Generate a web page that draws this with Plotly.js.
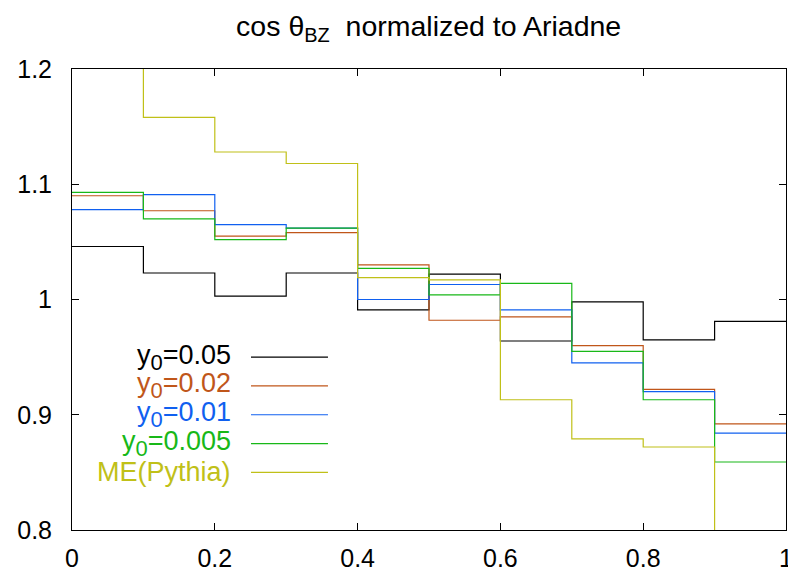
<!DOCTYPE html>
<html>
<head>
<meta charset="utf-8">
<script src="https://cdn.plot.ly/plotly-3.0.1.min.js"></script>
<style>html,body{margin:0;padding:0;background:#fff;}#chart{width:788px;height:571px;}</style>
</head>
<body>
<div id="chart"></div>
<script>
// bin edges of cos theta_BZ
var binEdges = [0, 0.1, 0.2, 0.3, 0.4, 0.5, 0.6, 0.7, 0.8, 0.9, 1.0];
// ratio to Ariadne per bin
var y0_005  = [1.046, 1.023, 1.003, 1.023, 0.991, 1.022, 0.964, 0.998, 0.965, 0.981];
var y0_002  = [1.090, 1.077, 1.055, 1.058, 1.030, 0.982, 0.985, 0.960, 0.922, 0.892];
var y0_001  = [1.078, 1.091, 1.065, 1.062, 1.000, 1.013, 0.991, 0.945, 0.920, 0.884];
var y0_0005 = [1.093, 1.070, 1.052, 1.062, 1.027, 1.004, 1.014, 0.955, 0.913, 0.859];
var mePythia = [1.25, 1.158, 1.128, 1.118, 1.019, 1.017, 0.913, 0.879, 0.872, 0.78];

var subStyle = function(t){ return '<sub><span style="font-size:22px">' + t + '</span></sub>'; };
var seriesNames = ["y" + subStyle("0") + "=0.05", "y" + subStyle("0") + "=0.02", "y" + subStyle("0") + "=0.01", "y" + subStyle("0") + "=0.005", "ME(Pythia)"];
var seriesData = [y0_005, y0_002, y0_001, y0_0005, mePythia];
var seriesColors = ["#000000", "#c0561a", "#1060f0", "#18b818", "#c0c018"];

var traces = seriesData.map(function(vals, i){
  return {
    x: binEdges,
    y: vals.concat([vals[vals.length-1]]),
    type: 'scatter', mode: 'lines',
    line: {shape: 'hv', color: seriesColors[i], width: 1.2},
    name: seriesNames[i], showlegend: false, hoverinfo: 'skip'
  };
});

var legendRows = [0.375, 0.3125, 0.25, 0.1875, 0.125];
var annotations = [];
var shapes = [];
seriesNames.forEach(function(n, i){
  annotations.push({
    xref: 'paper', yref: 'paper', x: 0.2255, y: legendRows[i],
    xanchor: 'right', yanchor: 'middle', text: n, showarrow: false,
    font: {family: 'Liberation Sans, Arial, sans-serif', size: 27, color: seriesColors[i]}
  });
  shapes.push({
    type: 'line', xref: 'paper', yref: 'paper',
    x0: 0.2507, x1: 0.3585, y0: legendRows[i], y1: legendRows[i],
    line: {color: seriesColors[i], width: 1.2}
  });
});

var axisFont = {family: 'Liberation Sans, Arial, sans-serif', size: 25, color: '#000'};
var layout = {
  width: 788, height: 571,
  margin: {l: 72, r: 2, t: 69, b: 41, pad: 0},
  paper_bgcolor: '#fff', plot_bgcolor: '#fff',
  title: {text: 'cos θ<sub>BZ</sub>  normalized to Ariadne', x: 0.544, xanchor: 'center', yref: 'container', y: 0.955, yanchor: 'middle',
    font: {family: 'Liberation Sans, Arial, sans-serif', size: 28.5, color: '#000'}},
  xaxis: {range: [0, 1], tickvals: [0, 0.2, 0.4, 0.6, 0.8, 1], ticktext: ['0', '0.2', '0.4', '0.6', '0.8', '1'],
    ticks: 'inside', ticklen: 7, tickcolor: '#000', showgrid: false, zeroline: false, ticklabeloverflow: 'allow',
    showline: true, linecolor: '#000', linewidth: 1, mirror: 'ticks', tickfont: axisFont, ticklabelstandoff: 6},
  yaxis: {range: [0.8, 1.2], tickvals: [0.8, 0.9, 1.0, 1.1, 1.2], ticktext: ['0.8', '0.9', '1', '1.1', '1.2'],
    ticks: 'inside', ticklen: 7, tickcolor: '#000', showgrid: false, zeroline: false,
    showline: true, linecolor: '#000', linewidth: 1, mirror: 'ticks', tickfont: axisFont, ticklabelstandoff: 14},
  annotations: annotations,
  shapes: shapes,
  showlegend: false
};

Plotly.newPlot('chart', traces, layout, {displayModeBar: false, staticPlot: true});
</script>
</body>
</html>
